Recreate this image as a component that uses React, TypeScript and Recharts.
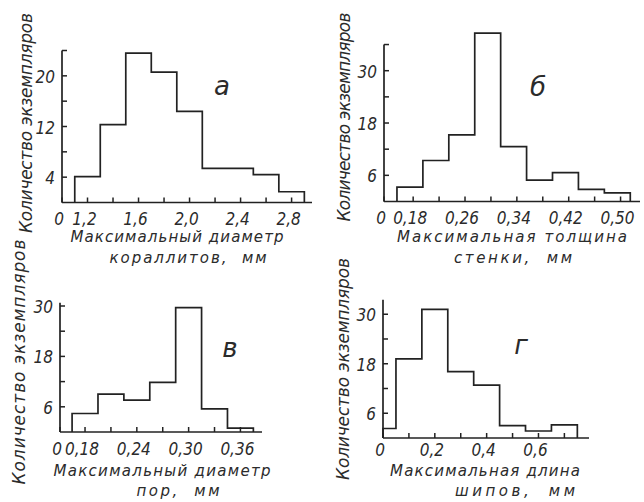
import React from 'react';
import { LineChart, Line, XAxis, YAxis, ReferenceLine } from 'recharts';

// а — максимальный диаметр кораллитов
const edgesA = [1.1, 1.3, 1.5, 1.7, 1.9, 2.1, 2.3, 2.5, 2.7, 2.9];
const countsA = [4.1, 12.3, 23.6, 20.6, 14.4, 5.4, 5.4, 4.4, 1.7];
const xTicksA = [1.0, 1.2, 1.4, 1.6, 1.8, 2.0, 2.2, 2.4, 2.6, 2.8];
const xLabelsA = ['0', '1,2', '', '1,6', '', '2,0', '', '2,4', '', '2,8'];
const yTicksA = [4, 8, 12, 16, 20, 24];
const yLabelsA = ['4', '', '12', '', '20', ''];

// б — максимальная толщина стенки
const edgesB = [0.155, 0.195, 0.235, 0.275, 0.315, 0.355, 0.395, 0.435, 0.475, 0.515];
const countsB = [3.3, 9.4, 15.3, 38.6, 12.6, 4.9, 6.6, 2.8, 2.0];
const xTicksB = [0.135, 0.18, 0.22, 0.26, 0.3, 0.34, 0.38, 0.42, 0.46, 0.5];
const xLabelsB = ['0', '0,18', '', '0,26', '', '0,34', '', '0,42', '', '0,50'];
const yTicksB = [6, 12, 18, 24, 30, 36];
const yLabelsB = ['6', '', '18', '', '30', ''];

// в — максимальный диаметр пор
const edgesC = [0.165, 0.195, 0.225, 0.255, 0.285, 0.315, 0.345, 0.375];
const countsC = [4.4, 9.0, 7.6, 11.8, 29.6, 5.5, 0.9];
const xTicksC = [0.151, 0.18, 0.21, 0.24, 0.27, 0.3, 0.33, 0.36];
const xLabelsC = ['0', '0,18', '', '0,24', '', '0,30', '', '0,36'];
const yTicksC = [6, 12, 18, 24, 30];
const yLabelsC = ['6', '', '18', '', '30'];

// г — максимальная длина шипов
const edgesD = [0, 0.05, 0.15, 0.25, 0.35, 0.45, 0.55, 0.65, 0.75];
const countsD = [2.3, 19.2, 31.2, 16.1, 12.8, 3.0, 1.7, 3.2];
const xTicksD = [0, 0.1, 0.2, 0.3, 0.4, 0.5, 0.6, 0.7];
const xLabelsD = ['0', '', '0,2', '', '0,4', '', '0,6', ''];
const yTicksD = [6, 12, 18, 24, 30];
const yLabelsD = ['6', '', '18', '', '30'];

const INK = '#222';
const TEXT = '#2b2b2b';
const FONT = '"DejaVu Sans", sans-serif';
const TICK_FONT = '"DejaVu Sans Condensed", "DejaVu Sans", sans-serif';
const X_AXIS_H = 30;
const Y_AXIS_W = 60;

// outline of a histogram: points at bin edges, drawn with stepAfter
const stepData = (edges: number[], counts: number[]) => {
  const last = edges.length - 1;
  return [
    { x: edges[0], n: 0 },
    ...counts.map((c, i) => ({ x: edges[i], n: c })),
    { x: edges[last], n: counts[counts.length - 1] },
    { x: edges[last], n: 0 },
  ];
};

const findLabel = (ticks: number[], labels: string[], v: number) => {
  const i = ticks.findIndex((t) => Math.abs(t - v) < 1e-6);
  return i >= 0 ? labels[i] : '';
};

const makeXTick = (ticks: number[], labels: string[], dy: number) => (props: any) => {
  const { x, y, payload } = props;
  return (
    <g>
      <line x1={x} y1={y} x2={x} y2={y - 5} stroke={INK} strokeWidth={1.5} />
      <text x={x - 3} y={y + dy} textAnchor="middle" dominantBaseline="central"
        fontFamily={TICK_FONT} fontStyle="italic" fontSize={17} fill={TEXT}>
        {findLabel(ticks, labels, payload.value)}
      </text>
    </g>
  );
};

const makeYTick = (ticks: number[], labels: string[]) => (props: any) => {
  const { x, y, payload } = props;
  return (
    <g>
      <line x1={x} y1={y} x2={x + 5} y2={y} stroke={INK} strokeWidth={1.5} />
      <text x={x - 7} y={y + 1} textAnchor="end" dominantBaseline="central"
        fontFamily={TICK_FONT} fontStyle="italic" fontSize={17} fill={TEXT}>
        {findLabel(ticks, labels, payload.value)}
      </text>
    </g>
  );
};

type PanelProps = {
  left: number;
  top: number;
  width: number;
  height: number;
  margin: { top: number; right: number; bottom: number; left: number };
  edges: number[];
  counts: number[];
  xDomain: [number, number];
  xTicks: number[];
  xLabels: string[];
  yDomain: [number, number];
  yTicks: number[];
  yLabels: string[];
  yAxisTop: number;
  labelDy: number;
};

const Panel = (p: PanelProps) => (
  <div style={{ position: 'absolute', left: p.left, top: p.top }}>
    <LineChart width={p.width} height={p.height} margin={p.margin} data={stepData(p.edges, p.counts)}>
      <XAxis
        dataKey="x"
        type="number"
        domain={p.xDomain}
        ticks={p.xTicks}
        interval={0}
        height={X_AXIS_H}
        tickSize={0}
        tickMargin={0}
        tickLine={false}
        axisLine={{ stroke: INK, strokeWidth: 1.7 }}
        tick={makeXTick(p.xTicks, p.xLabels, p.labelDy)}
      />
      <YAxis
        type="number"
        domain={p.yDomain}
        ticks={p.yTicks}
        interval={0}
        width={Y_AXIS_W}
        tickSize={0}
        tickMargin={0}
        tickLine={false}
        axisLine={false}
        tick={makeYTick(p.yTicks, p.yLabels)}
      />
      <ReferenceLine
        segment={[{ x: p.xDomain[0], y: 0 }, { x: p.xDomain[0], y: p.yAxisTop }]}
        stroke={INK}
        strokeWidth={1.7}
      />
      <Line
        dataKey="n"
        type="stepAfter"
        stroke={INK}
        strokeWidth={1.7}
        dot={false}
        isAnimationActive={false}
      />
    </LineChart>
  </div>
);

const txt = {
  fontFamily: FONT,
  fontStyle: 'italic' as const,
  fill: TEXT,
  whiteSpace: 'pre' as const,
};

const YTitle = ({ cx, cy, len }: { cx: number; cy: number; len: number }) => (
  <text x={cx} y={cy} transform={`rotate(-90 ${cx} ${cy})`} textAnchor="middle"
    dominantBaseline="central" fontSize={17} textLength={len} lengthAdjust="spacing" style={txt}>
    Количество экземпляров
  </text>
);

const XTitle = ({ cx, cy, len, children }: { cx: number; cy: number; len: number; children: string }) => (
  <text x={cx} y={cy} textAnchor="middle" dominantBaseline="central" fontSize={15}
    textLength={len} lengthAdjust="spacing" style={txt}>
    {children}
  </text>
);

const Letter = ({ cx, cy, children }: { cx: number; cy: number; children: string }) => (
  <text x={cx} y={cy} textAnchor="middle" dominantBaseline="central" fontSize={26} style={txt}>
    {children}
  </text>
);

export default function App() {
  return (
    <div style={{ position: 'absolute', left: 0, top: 0, width: 644, height: 502, background: '#fff', overflow: 'hidden' }}>
      <Panel left={0} top={0} width={322} height={270}
        margin={{ top: 50.5, right: 10, bottom: 67.5 - X_AXIS_H, left: 62 - Y_AXIS_W }}
        edges={edgesA} counts={countsA}
        xDomain={[1.0, 2.96]} xTicks={xTicksA} xLabels={xLabelsA}
        yDomain={[0, 24]} yTicks={yTicksA} yLabels={yLabelsA} yAxisTop={24} labelDy={16} />
      <Panel left={322} top={0} width={322} height={270}
        margin={{ top: 27.1, right: 4, bottom: 68.5 - X_AXIS_H, left: 62 - Y_AXIS_W }}
        edges={edgesB} counts={countsB}
        xDomain={[0.135, 0.53]} xTicks={xTicksB} xLabels={xLabelsB}
        yDomain={[0, 40]} yTicks={yTicksB} yLabels={yLabelsB} yAxisTop={36} labelDy={16} />
      <Panel left={0} top={270} width={322} height={232}
        margin={{ top: 31.8, right: 60, bottom: 70 - X_AXIS_H, left: 60 - Y_AXIS_W }}
        edges={edgesC} counts={countsC}
        xDomain={[0.151, 0.385]} xTicks={xTicksC} xLabels={xLabelsC}
        yDomain={[0, 31]} yTicks={yTicksC} yLabels={yLabelsC} yAxisTop={30.8} labelDy={17} />
      <Panel left={322} top={270} width={322} height={232}
        margin={{ top: 29.8, right: 55, bottom: 64 - X_AXIS_H, left: 61 - Y_AXIS_W }}
        edges={edgesD} counts={countsD}
        xDomain={[0, 0.795]} xTicks={xTicksD} xLabels={xLabelsD}
        yDomain={[0, 33.5]} yTicks={yTicksD} yLabels={yLabelsD} yAxisTop={33.5} labelDy={12} />

      <svg width={644} height={502} style={{ position: 'absolute', left: 0, top: 0, pointerEvents: 'none' }}>
        <YTitle cx={26} cy={123} len={220} />
        <YTitle cx={344} cy={117} len={209} />
        <YTitle cx={19} cy={362} len={245} />
        <YTitle cx={343} cy={369} len={222} />

        <XTitle cx={177} cy={237} len={213}>Максимальный диаметр</XTitle>
        <XTitle cx={188} cy={258} len={157}>кораллитов,  мм</XTitle>
        <XTitle cx={512} cy={237} len={230}>Максимальная толщина</XTitle>
        <XTitle cx={513} cy={258} len={118}>стенки,  мм</XTitle>
        <XTitle cx={162} cy={471} len={217}>Максимальный диаметр</XTitle>
        <XTitle cx={178} cy={491} len={83}>пор,  мм</XTitle>
        <XTitle cx={485} cy={471} len={190}>Максимальная длина</XTitle>
        <XTitle cx={515} cy={491} len={120}>шипов,  мм</XTitle>

        <Letter cx={222} cy={86}>а</Letter>
        <Letter cx={538} cy={87}>б</Letter>
        <Letter cx={230} cy={348}>в</Letter>
        <Letter cx={521} cy={345}>г</Letter>
      </svg>
    </div>
  );
}
